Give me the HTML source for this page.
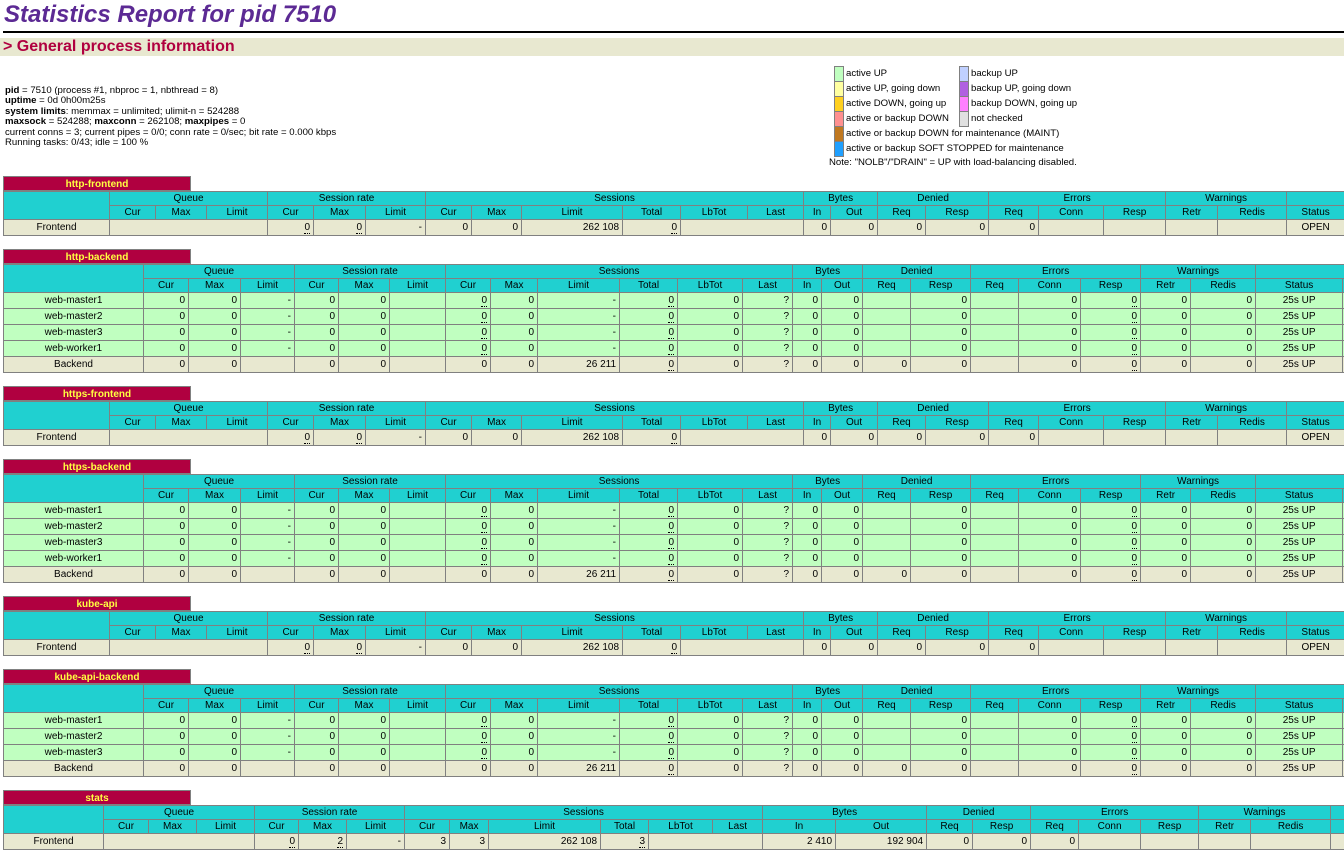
<!DOCTYPE html>
<html><head><meta charset="utf-8">
<style>
html,body{margin:0;width:1344px;height:857px;overflow:hidden}
body{background:#fff;font-family:"Liberation Sans",Arial,sans-serif;font-size:10px;color:#000;position:relative}
#wrap{position:absolute;left:0;top:0;width:1344px;height:857px;overflow:hidden}
h1{position:absolute;left:4px;top:1px;margin:0;font-size:24px;font-style:italic;font-weight:bold;color:#5c2a94;white-space:nowrap}
.rule{position:absolute;left:3px;top:31px;width:1341px;height:2px;background:#000}
.h2{position:absolute;left:0;top:38px;width:1341px;height:18px;background:#e8e8d0;color:#b00040;font-weight:bold;font-size:16px;line-height:18px;padding-left:3px}
.info{position:absolute;left:5px;top:86px;line-height:10.4px;font-size:9.6px;white-space:nowrap}
.leg{position:absolute;font-size:9.6px;white-space:nowrap}
.leg .r{height:15px;line-height:15px;position:relative;padding-left:12px}
.leg .b{position:absolute;left:0;top:0;width:8px;height:14px;border:1px solid #808080}
.tt{position:absolute;left:3px;width:188px;height:15px;background:#b00040;color:#ffff40;font-weight:bold;text-align:center;line-height:15px;font-size:10px;border:1px solid #808080;box-sizing:border-box}
table{position:absolute;left:3px;border-collapse:collapse;table-layout:fixed;font-size:10px}
td{border:1px solid #808080;padding:0 3px;white-space:nowrap;overflow:hidden;height:13px;line-height:13px;text-align:right}
tr.h td{background:#20d0d0;text-align:center;height:13px}
tr.f td{background:#e8e8d0;height:15px}
tr.u td{background:#c0ffc0;height:15px}
td.n{text-align:center}
td.s{text-align:center}
u{text-decoration:none;border-bottom:1px dotted #000}
</style></head><body><div id="wrap">
<h1>Statistics Report for pid 7510</h1>
<div class="rule"></div>
<div class="h2">&gt; General process information</div>
<div class="info"><b>pid</b> = 7510 (process #1, nbproc = 1, nbthread = 8)<br><b>uptime</b> = 0d 0h00m25s<br><b>system limits</b>: memmax = unlimited; ulimit-n = 524288<br><b>maxsock</b> = 524288; <b>maxconn</b> = 262108; <b>maxpipes</b> = 0<br>current conns = 3; current pipes = 0/0; conn rate = 0/sec; bit rate = 0.000 kbps<br>Running tasks: 0/43; idle = 100 %</div>
<div class="leg" style="left:834px;top:66px">
<div class="r"><span class="b" style="background:#c0ffc0"></span>active UP</div>
<div class="r"><span class="b" style="background:#ffffa0"></span>active UP, going down</div>
<div class="r"><span class="b" style="background:#ffd020"></span>active DOWN, going up</div>
<div class="r"><span class="b" style="background:#ff9090"></span>active or backup DOWN</div>
<div class="r"><span class="b" style="background:#c07820"></span>active or backup DOWN for maintenance (MAINT)</div>
<div class="r"><span class="b" style="background:#20a0ff"></span>active or backup SOFT STOPPED for maintenance</div>
</div>
<div class="leg" style="left:959px;top:66px">
<div class="r"><span class="b" style="background:#c0d0ff"></span>backup UP</div>
<div class="r"><span class="b" style="background:#b060e0"></span>backup UP, going down</div>
<div class="r"><span class="b" style="background:#ff80ff"></span>backup DOWN, going up</div>
<div class="r"><span class="b" style="background:#e0e0e0"></span>not checked</div>
</div>
<div class="leg" style="left:829px;top:157px">Note: "NOLB"/"DRAIN" = UP with load-balancing disabled.</div>

<div class="tt" style="top:176px">http-frontend</div>
<table style="top:191px;width:1421px">
<colgroup><col style="width:106px"><col style="width:46px"><col style="width:51px"><col style="width:61px"><col style="width:46px"><col style="width:52px"><col style="width:60px"><col style="width:46px"><col style="width:50px"><col style="width:101px"><col style="width:58px"><col style="width:67px"><col style="width:56px"><col style="width:27px"><col style="width:47px"><col style="width:48px"><col style="width:63px"><col style="width:50px"><col style="width:65px"><col style="width:62px"><col style="width:52px"><col style="width:69px"><col style="width:58px"><col style="width:80px"></colgroup>
<tr class="h"><td rowspan="2"></td><td colspan="3">Queue</td><td colspan="3">Session rate</td><td colspan="6">Sessions</td><td colspan="2">Bytes</td><td colspan="2">Denied</td><td colspan="3">Errors</td><td colspan="2">Warnings</td><td colspan="2"></td></tr>
<tr class="h"><td>Cur</td><td>Max</td><td>Limit</td><td>Cur</td><td>Max</td><td>Limit</td><td>Cur</td><td>Max</td><td>Limit</td><td>Total</td><td>LbTot</td><td>Last</td><td>In</td><td>Out</td><td>Req</td><td>Resp</td><td>Req</td><td>Conn</td><td>Resp</td><td>Retr</td><td>Redis</td><td>Status</td><td>LastChk</td></tr>
<tr class="f"><td class="n">Frontend</td><td colspan="3"></td><td><u>0</u></td><td><u>0</u></td><td>-</td><td>0</td><td>0</td><td>262 108</td><td><u>0</u></td><td colspan="2"></td><td>0</td><td>0</td><td>0</td><td>0</td><td>0</td><td></td><td></td><td></td><td></td><td class="s">OPEN</td><td></td></tr>
</table>

<div class="tt" style="top:249px">http-backend</div>
<table style="top:264px;width:1419px">
<colgroup><col style="width:140px"><col style="width:45px"><col style="width:52px"><col style="width:54px"><col style="width:44px"><col style="width:51px"><col style="width:56px"><col style="width:45px"><col style="width:47px"><col style="width:82px"><col style="width:58px"><col style="width:65px"><col style="width:50px"><col style="width:29px"><col style="width:41px"><col style="width:48px"><col style="width:60px"><col style="width:48px"><col style="width:62px"><col style="width:60px"><col style="width:50px"><col style="width:65px"><col style="width:87px"><col style="width:80px"></colgroup>
<tr class="h"><td rowspan="2"></td><td colspan="3">Queue</td><td colspan="3">Session rate</td><td colspan="6">Sessions</td><td colspan="2">Bytes</td><td colspan="2">Denied</td><td colspan="3">Errors</td><td colspan="2">Warnings</td><td colspan="2"></td></tr>
<tr class="h"><td>Cur</td><td>Max</td><td>Limit</td><td>Cur</td><td>Max</td><td>Limit</td><td>Cur</td><td>Max</td><td>Limit</td><td>Total</td><td>LbTot</td><td>Last</td><td>In</td><td>Out</td><td>Req</td><td>Resp</td><td>Req</td><td>Conn</td><td>Resp</td><td>Retr</td><td>Redis</td><td>Status</td><td>LastChk</td></tr>
<tr class="u"><td class="n">web-master1</td><td>0</td><td>0</td><td>-</td><td>0</td><td>0</td><td></td><td><u>0</u></td><td>0</td><td>-</td><td><u>0</u></td><td>0</td><td>?</td><td>0</td><td>0</td><td></td><td>0</td><td></td><td>0</td><td><u>0</u></td><td>0</td><td>0</td><td class="s">25s UP</td><td></td></tr>
<tr class="u"><td class="n">web-master2</td><td>0</td><td>0</td><td>-</td><td>0</td><td>0</td><td></td><td><u>0</u></td><td>0</td><td>-</td><td><u>0</u></td><td>0</td><td>?</td><td>0</td><td>0</td><td></td><td>0</td><td></td><td>0</td><td><u>0</u></td><td>0</td><td>0</td><td class="s">25s UP</td><td></td></tr>
<tr class="u"><td class="n">web-master3</td><td>0</td><td>0</td><td>-</td><td>0</td><td>0</td><td></td><td><u>0</u></td><td>0</td><td>-</td><td><u>0</u></td><td>0</td><td>?</td><td>0</td><td>0</td><td></td><td>0</td><td></td><td>0</td><td><u>0</u></td><td>0</td><td>0</td><td class="s">25s UP</td><td></td></tr>
<tr class="u"><td class="n">web-worker1</td><td>0</td><td>0</td><td>-</td><td>0</td><td>0</td><td></td><td><u>0</u></td><td>0</td><td>-</td><td><u>0</u></td><td>0</td><td>?</td><td>0</td><td>0</td><td></td><td>0</td><td></td><td>0</td><td><u>0</u></td><td>0</td><td>0</td><td class="s">25s UP</td><td></td></tr>
<tr class="f"><td class="n">Backend</td><td>0</td><td>0</td><td></td><td>0</td><td>0</td><td></td><td>0</td><td>0</td><td>26 211</td><td><u>0</u></td><td>0</td><td>?</td><td>0</td><td>0</td><td>0</td><td>0</td><td></td><td>0</td><td><u>0</u></td><td>0</td><td>0</td><td class="s">25s UP</td><td></td></tr>
</table>

<div class="tt" style="top:386px">https-frontend</div>
<table style="top:401px;width:1421px">
<colgroup><col style="width:106px"><col style="width:46px"><col style="width:51px"><col style="width:61px"><col style="width:46px"><col style="width:52px"><col style="width:60px"><col style="width:46px"><col style="width:50px"><col style="width:101px"><col style="width:58px"><col style="width:67px"><col style="width:56px"><col style="width:27px"><col style="width:47px"><col style="width:48px"><col style="width:63px"><col style="width:50px"><col style="width:65px"><col style="width:62px"><col style="width:52px"><col style="width:69px"><col style="width:58px"><col style="width:80px"></colgroup>
<tr class="h"><td rowspan="2"></td><td colspan="3">Queue</td><td colspan="3">Session rate</td><td colspan="6">Sessions</td><td colspan="2">Bytes</td><td colspan="2">Denied</td><td colspan="3">Errors</td><td colspan="2">Warnings</td><td colspan="2"></td></tr>
<tr class="h"><td>Cur</td><td>Max</td><td>Limit</td><td>Cur</td><td>Max</td><td>Limit</td><td>Cur</td><td>Max</td><td>Limit</td><td>Total</td><td>LbTot</td><td>Last</td><td>In</td><td>Out</td><td>Req</td><td>Resp</td><td>Req</td><td>Conn</td><td>Resp</td><td>Retr</td><td>Redis</td><td>Status</td><td>LastChk</td></tr>
<tr class="f"><td class="n">Frontend</td><td colspan="3"></td><td><u>0</u></td><td><u>0</u></td><td>-</td><td>0</td><td>0</td><td>262 108</td><td><u>0</u></td><td colspan="2"></td><td>0</td><td>0</td><td>0</td><td>0</td><td>0</td><td></td><td></td><td></td><td></td><td class="s">OPEN</td><td></td></tr>
</table>

<div class="tt" style="top:459px">https-backend</div>
<table style="top:474px;width:1419px">
<colgroup><col style="width:140px"><col style="width:45px"><col style="width:52px"><col style="width:54px"><col style="width:44px"><col style="width:51px"><col style="width:56px"><col style="width:45px"><col style="width:47px"><col style="width:82px"><col style="width:58px"><col style="width:65px"><col style="width:50px"><col style="width:29px"><col style="width:41px"><col style="width:48px"><col style="width:60px"><col style="width:48px"><col style="width:62px"><col style="width:60px"><col style="width:50px"><col style="width:65px"><col style="width:87px"><col style="width:80px"></colgroup>
<tr class="h"><td rowspan="2"></td><td colspan="3">Queue</td><td colspan="3">Session rate</td><td colspan="6">Sessions</td><td colspan="2">Bytes</td><td colspan="2">Denied</td><td colspan="3">Errors</td><td colspan="2">Warnings</td><td colspan="2"></td></tr>
<tr class="h"><td>Cur</td><td>Max</td><td>Limit</td><td>Cur</td><td>Max</td><td>Limit</td><td>Cur</td><td>Max</td><td>Limit</td><td>Total</td><td>LbTot</td><td>Last</td><td>In</td><td>Out</td><td>Req</td><td>Resp</td><td>Req</td><td>Conn</td><td>Resp</td><td>Retr</td><td>Redis</td><td>Status</td><td>LastChk</td></tr>
<tr class="u"><td class="n">web-master1</td><td>0</td><td>0</td><td>-</td><td>0</td><td>0</td><td></td><td><u>0</u></td><td>0</td><td>-</td><td><u>0</u></td><td>0</td><td>?</td><td>0</td><td>0</td><td></td><td>0</td><td></td><td>0</td><td><u>0</u></td><td>0</td><td>0</td><td class="s">25s UP</td><td></td></tr>
<tr class="u"><td class="n">web-master2</td><td>0</td><td>0</td><td>-</td><td>0</td><td>0</td><td></td><td><u>0</u></td><td>0</td><td>-</td><td><u>0</u></td><td>0</td><td>?</td><td>0</td><td>0</td><td></td><td>0</td><td></td><td>0</td><td><u>0</u></td><td>0</td><td>0</td><td class="s">25s UP</td><td></td></tr>
<tr class="u"><td class="n">web-master3</td><td>0</td><td>0</td><td>-</td><td>0</td><td>0</td><td></td><td><u>0</u></td><td>0</td><td>-</td><td><u>0</u></td><td>0</td><td>?</td><td>0</td><td>0</td><td></td><td>0</td><td></td><td>0</td><td><u>0</u></td><td>0</td><td>0</td><td class="s">25s UP</td><td></td></tr>
<tr class="u"><td class="n">web-worker1</td><td>0</td><td>0</td><td>-</td><td>0</td><td>0</td><td></td><td><u>0</u></td><td>0</td><td>-</td><td><u>0</u></td><td>0</td><td>?</td><td>0</td><td>0</td><td></td><td>0</td><td></td><td>0</td><td><u>0</u></td><td>0</td><td>0</td><td class="s">25s UP</td><td></td></tr>
<tr class="f"><td class="n">Backend</td><td>0</td><td>0</td><td></td><td>0</td><td>0</td><td></td><td>0</td><td>0</td><td>26 211</td><td><u>0</u></td><td>0</td><td>?</td><td>0</td><td>0</td><td>0</td><td>0</td><td></td><td>0</td><td><u>0</u></td><td>0</td><td>0</td><td class="s">25s UP</td><td></td></tr>
</table>

<div class="tt" style="top:596px">kube-api</div>
<table style="top:611px;width:1421px">
<colgroup><col style="width:106px"><col style="width:46px"><col style="width:51px"><col style="width:61px"><col style="width:46px"><col style="width:52px"><col style="width:60px"><col style="width:46px"><col style="width:50px"><col style="width:101px"><col style="width:58px"><col style="width:67px"><col style="width:56px"><col style="width:27px"><col style="width:47px"><col style="width:48px"><col style="width:63px"><col style="width:50px"><col style="width:65px"><col style="width:62px"><col style="width:52px"><col style="width:69px"><col style="width:58px"><col style="width:80px"></colgroup>
<tr class="h"><td rowspan="2"></td><td colspan="3">Queue</td><td colspan="3">Session rate</td><td colspan="6">Sessions</td><td colspan="2">Bytes</td><td colspan="2">Denied</td><td colspan="3">Errors</td><td colspan="2">Warnings</td><td colspan="2"></td></tr>
<tr class="h"><td>Cur</td><td>Max</td><td>Limit</td><td>Cur</td><td>Max</td><td>Limit</td><td>Cur</td><td>Max</td><td>Limit</td><td>Total</td><td>LbTot</td><td>Last</td><td>In</td><td>Out</td><td>Req</td><td>Resp</td><td>Req</td><td>Conn</td><td>Resp</td><td>Retr</td><td>Redis</td><td>Status</td><td>LastChk</td></tr>
<tr class="f"><td class="n">Frontend</td><td colspan="3"></td><td><u>0</u></td><td><u>0</u></td><td>-</td><td>0</td><td>0</td><td>262 108</td><td><u>0</u></td><td colspan="2"></td><td>0</td><td>0</td><td>0</td><td>0</td><td>0</td><td></td><td></td><td></td><td></td><td class="s">OPEN</td><td></td></tr>
</table>

<div class="tt" style="top:669px">kube-api-backend</div>
<table style="top:684px;width:1419px">
<colgroup><col style="width:140px"><col style="width:45px"><col style="width:52px"><col style="width:54px"><col style="width:44px"><col style="width:51px"><col style="width:56px"><col style="width:45px"><col style="width:47px"><col style="width:82px"><col style="width:58px"><col style="width:65px"><col style="width:50px"><col style="width:29px"><col style="width:41px"><col style="width:48px"><col style="width:60px"><col style="width:48px"><col style="width:62px"><col style="width:60px"><col style="width:50px"><col style="width:65px"><col style="width:87px"><col style="width:80px"></colgroup>
<tr class="h"><td rowspan="2"></td><td colspan="3">Queue</td><td colspan="3">Session rate</td><td colspan="6">Sessions</td><td colspan="2">Bytes</td><td colspan="2">Denied</td><td colspan="3">Errors</td><td colspan="2">Warnings</td><td colspan="2"></td></tr>
<tr class="h"><td>Cur</td><td>Max</td><td>Limit</td><td>Cur</td><td>Max</td><td>Limit</td><td>Cur</td><td>Max</td><td>Limit</td><td>Total</td><td>LbTot</td><td>Last</td><td>In</td><td>Out</td><td>Req</td><td>Resp</td><td>Req</td><td>Conn</td><td>Resp</td><td>Retr</td><td>Redis</td><td>Status</td><td>LastChk</td></tr>
<tr class="u"><td class="n">web-master1</td><td>0</td><td>0</td><td>-</td><td>0</td><td>0</td><td></td><td><u>0</u></td><td>0</td><td>-</td><td><u>0</u></td><td>0</td><td>?</td><td>0</td><td>0</td><td></td><td>0</td><td></td><td>0</td><td><u>0</u></td><td>0</td><td>0</td><td class="s">25s UP</td><td></td></tr>
<tr class="u"><td class="n">web-master2</td><td>0</td><td>0</td><td>-</td><td>0</td><td>0</td><td></td><td><u>0</u></td><td>0</td><td>-</td><td><u>0</u></td><td>0</td><td>?</td><td>0</td><td>0</td><td></td><td>0</td><td></td><td>0</td><td><u>0</u></td><td>0</td><td>0</td><td class="s">25s UP</td><td></td></tr>
<tr class="u"><td class="n">web-master3</td><td>0</td><td>0</td><td>-</td><td>0</td><td>0</td><td></td><td><u>0</u></td><td>0</td><td>-</td><td><u>0</u></td><td>0</td><td>?</td><td>0</td><td>0</td><td></td><td>0</td><td></td><td>0</td><td><u>0</u></td><td>0</td><td>0</td><td class="s">25s UP</td><td></td></tr>
<tr class="f"><td class="n">Backend</td><td>0</td><td>0</td><td></td><td>0</td><td>0</td><td></td><td>0</td><td>0</td><td>26 211</td><td><u>0</u></td><td>0</td><td>?</td><td>0</td><td>0</td><td>0</td><td>0</td><td></td><td>0</td><td><u>0</u></td><td>0</td><td>0</td><td class="s">25s UP</td><td></td></tr>
</table>

<div class="tt" style="top:790px">stats</div>
<table style="top:805px;width:1487px">
<colgroup><col style="width:100px"><col style="width:45px"><col style="width:48px"><col style="width:58px"><col style="width:44px"><col style="width:48px"><col style="width:58px"><col style="width:45px"><col style="width:39px"><col style="width:112px"><col style="width:48px"><col style="width:64px"><col style="width:50px"><col style="width:73px"><col style="width:91px"><col style="width:46px"><col style="width:58px"><col style="width:48px"><col style="width:62px"><col style="width:58px"><col style="width:52px"><col style="width:80px"><col style="width:80px"><col style="width:80px"></colgroup>
<tr class="h"><td rowspan="2"></td><td colspan="3">Queue</td><td colspan="3">Session rate</td><td colspan="6">Sessions</td><td colspan="2">Bytes</td><td colspan="2">Denied</td><td colspan="3">Errors</td><td colspan="2">Warnings</td><td colspan="2"></td></tr>
<tr class="h"><td>Cur</td><td>Max</td><td>Limit</td><td>Cur</td><td>Max</td><td>Limit</td><td>Cur</td><td>Max</td><td>Limit</td><td>Total</td><td>LbTot</td><td>Last</td><td>In</td><td>Out</td><td>Req</td><td>Resp</td><td>Req</td><td>Conn</td><td>Resp</td><td>Retr</td><td>Redis</td><td>Status</td><td>LastChk</td></tr>
<tr class="f"><td class="n">Frontend</td><td colspan="3"></td><td><u>0</u></td><td><u>2</u></td><td>-</td><td>3</td><td>3</td><td>262 108</td><td><u>3</u></td><td colspan="2"></td><td>2 410</td><td>192 904</td><td>0</td><td>0</td><td>0</td><td></td><td></td><td></td><td></td><td class="s">OPEN</td><td></td></tr>
</table>
</div></body></html>
